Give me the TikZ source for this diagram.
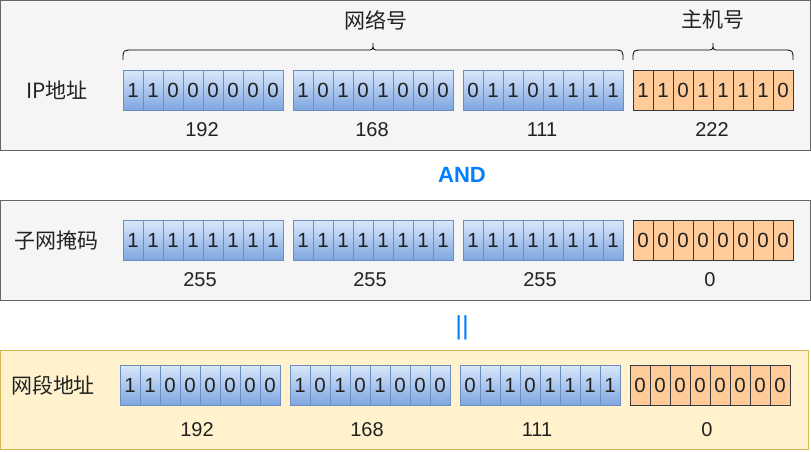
\documentclass[tikz,border=0pt]{standalone}
\usepackage{fontspec}
\setmainfont{Liberation Sans}
\newfontfamily\cjk{Noto Sans CJK SC}
\usepackage{tikz}
\usetikzlibrary{calc}

\definecolor{panelgray}{HTML}{F5F5F5}
\definecolor{panelline}{HTML}{666666}
\definecolor{panelyellow}{HTML}{FFF2CC}
\definecolor{yellowline}{HTML}{D6B656}
\definecolor{bluetop}{HTML}{DAE8FC}
\definecolor{bluebot}{HTML}{7EA6E0}
\definecolor{blueline}{HTML}{6C8EBF}
\definecolor{orangefill}{HTML}{FFCC99}
\definecolor{orangeline}{HTML}{36393D}
\definecolor{optext}{HTML}{007FFF}
\definecolor{ink}{HTML}{222222}

\tikzset{
  bitcell/.style={minimum width=20pt,minimum height=40pt,inner sep=0pt,outer sep=0pt,
    text=ink,font=\fontsize{20.5}{24}\selectfont},
  bitblue/.style={bitcell,draw=blueline,top color=bluetop,bottom color=bluebot},
  bitorange/.style={bitcell,draw=orangeline,fill=orangefill},
  numtext/.style={text=ink,inner sep=0pt,font=\fontsize{20}{24}\selectfont},
  rowlabel/.style={text=ink,inner sep=0pt,font=\cjk\fontsize{21}{25}\selectfont},
  optext/.style={text=optext,inner sep=0pt,font=\bfseries\fontsize{22}{26}\selectfont},
}

\begin{document}
\begin{tikzpicture}[x=1pt,y=-1pt]
  % Boundary
  \path[use as bounding box] (0,0) rectangle (811,451);
  % Panels
  \filldraw[fill=panelgray,draw=panelline,line width=1pt] (0.5,0.5) rectangle (810,150);
  \filldraw[fill=panelgray,draw=panelline,line width=1pt] (0.5,200) rectangle (810,300);
  \filldraw[fill=panelyellow,draw=yellowline,line width=1pt] (0.5,350) rectangle (808,449.5);
  % IP address
  \node[rowlabel] (iplabel) at (57,90) {IP地址};
  \begin{scope}[shift={(123,70)}]
    \foreach \g/\sty/\num/\bits in {0/bitblue/192/{1,1,0,0,0,0,0,0},1/bitblue/168/{1,0,1,0,1,0,0,0},
        2/bitblue/111/{0,1,1,0,1,1,1,1},3/bitorange/222/{1,1,0,1,1,1,1,0}}{
      \foreach \b [count=\i from 0] in \bits
        \node[\sty] (ip-\g-\i) at (\g*170+\i*20+10,20) {\b};
      \node[numtext] (ip-num\g) at (\g*170+79,60) {\num};
    }
  \end{scope}
  % Braces
  \pgfmathsetmacro\xa{123}
  \pgfmathsetmacro\xb{623}
  \pgfmathsetmacro\xm{373}
  \draw[line width=0.8pt] (\xa,60) .. controls (\xa,50) .. (\xa+10,50) -- (\xm-6,50)
    .. controls (\xm,50) .. (\xm,43) .. controls (\xm,50) .. (\xm+6,50) -- (\xb-10,50)
    .. controls (\xb,50) .. (\xb,60);
  \node[rowlabel] (netpart) at (\xm+3,20) {网络号};
  \pgfmathsetmacro\xa{633}
  \pgfmathsetmacro\xb{793}
  \pgfmathsetmacro\xm{713}
  \draw[line width=0.8pt] (\xa,60) .. controls (\xa,50) .. (\xa+10,50) -- (\xm-6,50)
    .. controls (\xm,50) .. (\xm,43) .. controls (\xm,50) .. (\xm+6,50) -- (\xb-10,50)
    .. controls (\xb,50) .. (\xb,60);
  \node[rowlabel] (hostpart) at (\xm,20) {主机号};
  % Operator
  \node[optext] (andop) at (462,175) {AND};
  % Subnet mask
  \node[rowlabel] (masklabel) at (56,240) {子网掩码};
  \begin{scope}[shift={(123,220)}]
    \foreach \g/\sty/\num/\bits in {0/bitblue/255/{1,1,1,1,1,1,1,1},1/bitblue/255/{1,1,1,1,1,1,1,1},
        2/bitblue/255/{1,1,1,1,1,1,1,1},3/bitorange/0/{0,0,0,0,0,0,0,0}}{
      \foreach \b [count=\i from 0] in \bits
        \node[\sty] (mask-\g-\i) at (\g*170+\i*20+10,20) {\b};
      \node[numtext] (mask-num\g) at (\g*170+77,60) {\num};
    }
  \end{scope}
  % Equals
  \node[text=optext,inner sep=0pt,font=\fontsize{26}{30}\selectfont] (eqop) at (462,328) {||};
  % Network address
  \node[rowlabel] (netlabel) at (53,385) {网段地址};
  \begin{scope}[shift={(120,365)}]
    \foreach \g/\sty/\num/\bits in {0/bitblue/192/{1,1,0,0,0,0,0,0},1/bitblue/168/{1,0,1,0,1,0,0,0},
        2/bitblue/111/{0,1,1,0,1,1,1,1},3/bitorange/0/{0,0,0,0,0,0,0,0}}{
      \foreach \b [count=\i from 0] in \bits
        \node[\sty] (net-\g-\i) at (\g*170+\i*20+10,20) {\b};
      \node[numtext] (net-num\g) at (\g*170+77,65) {\num};
    }
  \end{scope}
\end{tikzpicture}
\end{document}
